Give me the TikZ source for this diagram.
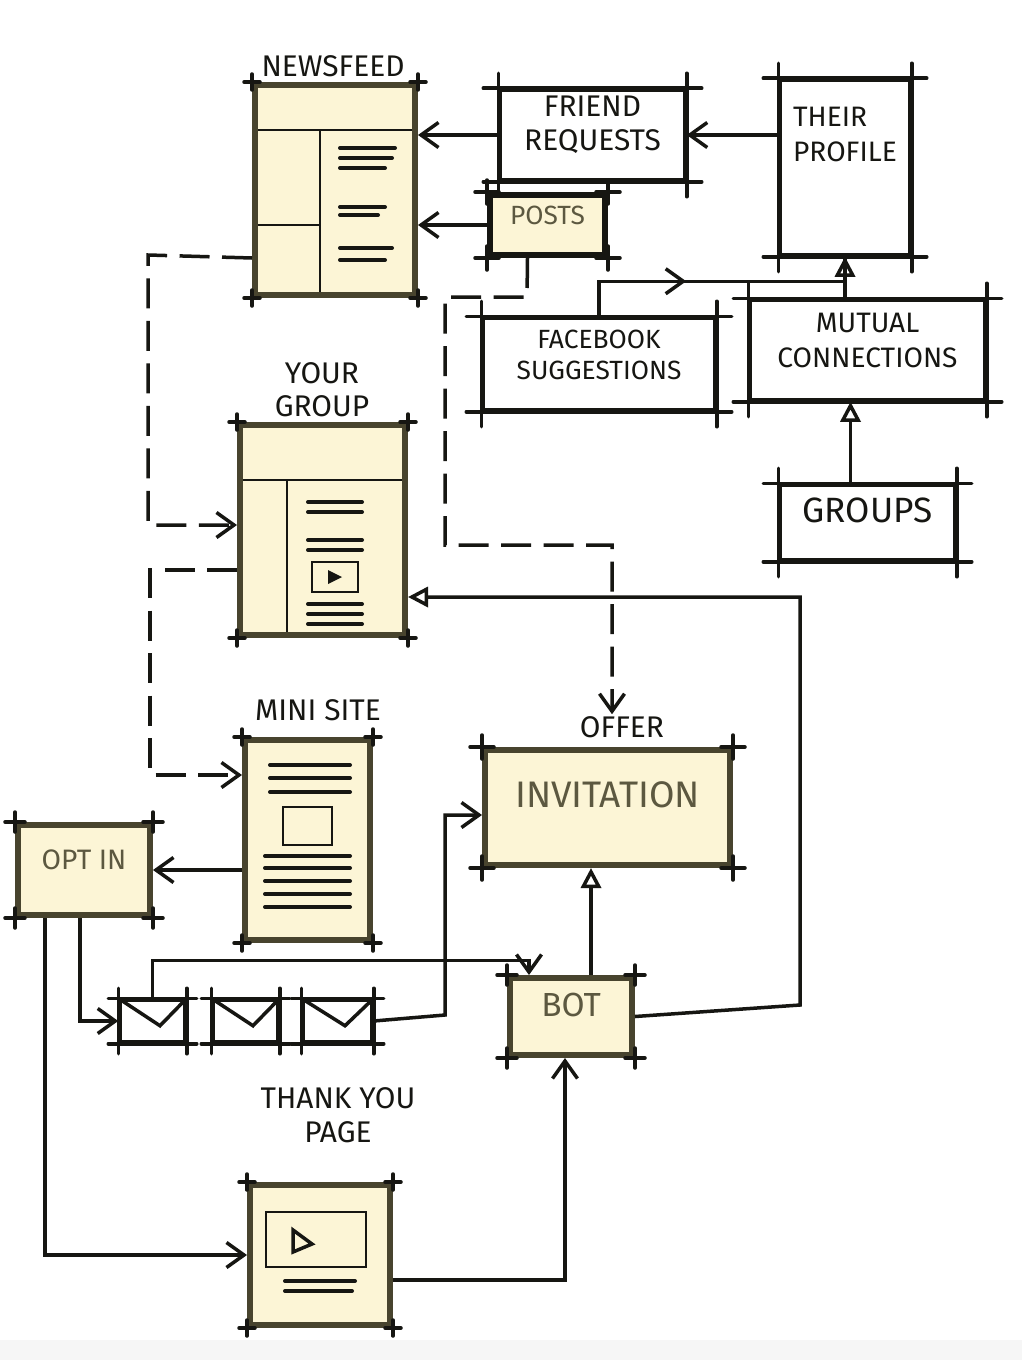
\documentclass[tikz,border=0pt]{standalone}
\usepackage{fontspec}
\setmainfont{Fira Sans}
\usetikzlibrary{fit,arrows.meta,decorations.markings}
\definecolor{inkblack}{RGB}{22,22,18}
\definecolor{olivedark}{RGB}{72,68,46}
\definecolor{olivetext}{RGB}{92,88,64}
\definecolor{paper}{RGB}{252,245,214}

% long crossing lines at the corners of a plain box
\newcommand{\overshoot}[2]{%
  \draw[tick] ([xshift=-#2]#1.north west) -- ([xshift=#2]#1.north east);
  \draw[tick] ([xshift=-#2]#1.south west) -- ([xshift=#2]#1.south east);
  \draw[tick] ([yshift=#2]#1.north west) -- ([yshift=-#2]#1.south west);
  \draw[tick] ([yshift=#2]#1.north east) -- ([yshift=-#2]#1.south east);
}
% short crosses at the corners of a filled box
\newcommand{\cornerticks}[2]{%
  \foreach \c in {north west,north east,south west,south east}{
    \draw[tick] ([xshift=-#2]#1.\c) -- ([xshift=#2]#1.\c);
    \draw[tick] ([yshift=-#2]#1.\c) -- ([yshift=#2]#1.\c);
  }%
}

\begin{document}
\begin{tikzpicture}[x=0.2mm, y=-0.2mm, every node/.style={text=inkblack}]
    \tikzstyle{pagebox}=[draw=olivedark, line width=1.2mm, fill=paper, inner sep=0pt]
    \tikzstyle{whitebox}=[draw=inkblack, line width=0.7mm, fill=white, inner sep=0pt, align=left]
    \tikzstyle{tick}=[draw=inkblack, line width=0.7mm, line cap=round]
    \tikzstyle{inner}=[draw=inkblack, line width=0.5mm]
    \tikzstyle{strokeline}=[draw=inkblack, line width=0.8mm, line cap=round]
    \tikzstyle{lbl}=[font=\fontsize{17}{19}\selectfont, align=center, inner sep=1pt]
    \tikzstyle{flow}=[draw=inkblack, line width=0.7mm, -{Straight Barb[length=3.5mm,width=5mm]}]
    \tikzstyle{triflow}=[draw=inkblack, line width=0.7mm, -{Triangle[open,length=4mm,width=4mm]}]
    \tikzstyle{dashflow}=[flow, dash pattern=on 6mm off 2.5mm]

    \useasboundingbox (0,0) rectangle (1022,1360);
    \fill[white] (0,0) rectangle (1022,1360);
    \fill[gray!7] (0,1340) rectangle (1022,1360);

    % pages
    \node[pagebox, fit={(255,85) (415,295)}] (news) {};
    \node[lbl] (newslbl) at (333,66) {NEWSFEED};
    \draw[inner] (258,130) -- (412,130) (320,130) -- (320,292) (258,225) -- (320,225);
    \foreach \y/\l in {148/395,158/392,168/385,207/385,215/378,248/392,260/385}
      \draw[strokeline] (340,\y) -- (\l,\y);

    \node[pagebox, fit={(240,425) (405,635)}] (yourgroup) {};
    \node[lbl] (yourlbl) at (322,390) {YOUR\\GROUP};
    \draw[inner] (243,480) -- (402,480) (287,480) -- (287,632);
    \foreach \y in {502,512,540,550,604,614,624}
      \draw[strokeline] (308,\y) -- (362,\y);
    \draw[inner] (312,562) rectangle (358,592);
    \fill[inkblack] (328,570) -- (342,577) -- (328,584) -- cycle;

    \node[pagebox, fit={(245,740) (370,940)}] (minisite) {};
    \node[lbl] (minilbl) at (318,710) {MINI SITE};
    \foreach \y in {765,778,792}
      \draw[strokeline] (270,\y) -- (350,\y);
    \draw[inner] (283,807) rectangle (332,845);
    \foreach \y in {856,868,881,894,907}
      \draw[strokeline] (265,\y) -- (350,\y);

    \node[pagebox, fit={(250,1185) (390,1325)}] (thanks) {};
    \node[lbl] (thankslbl) at (338,1115) {THANK YOU\\PAGE};
    \draw[inner] (266,1212) rectangle (366,1267);
    \draw[tick] (293,1230) -- (312,1244) -- (293,1252) -- cycle;
    \draw[strokeline] (285,1281) -- (355,1281) (285,1291) -- (352,1291);

    % plain boxes
    \node[whitebox, fit={(500,90) (685,180)}, font=\fontsize{17}{19}\selectfont] (friend) {FRIEND\\REQUESTS};
    \node[whitebox, fit={(780,80) (910,255)},
      label={[font=\fontsize{16}{20}\selectfont, align=left, anchor=north, yshift=-4.5mm]north:THEIR\\PROFILE}] (profile) {};
    \node[whitebox, fit={(483,318) (715,410)}, font=\fontsize{15}{18}\selectfont] (fbsug) {FACEBOOK\\SUGGESTIONS};
    \node[whitebox, fit={(750,300) (985,400)}, font=\fontsize{16}{20}\selectfont] (mutual) {MUTUAL\\CONNECTIONS};
    \node[whitebox, fit={(780,485) (955,560)}, font=\fontsize{20}{22}\selectfont] (groups) {GROUPS};
    \overshoot{friend}{3mm}
    \overshoot{profile}{3mm}
    \overshoot{fbsug}{3mm}
    \overshoot{mutual}{3mm}
    \overshoot{groups}{3mm}

    % filled boxes
    \node[pagebox, draw=inkblack, fit={(490,195) (605,255)}, font=\fontsize{15}{17}\selectfont, text=olivetext] (posts) {POSTS};
    \node[pagebox, fit={(485,750) (730,865)}, font=\fontsize{21}{24}\selectfont, text=olivetext] (offer) {INVITATION};
    \node[lbl] (offerlbl) at (622,727) {OFFER};
    \node[pagebox, fit={(18,825) (150,915)}, font=\fontsize{16}{18}\selectfont, text=olivetext] (optin) {OPT IN};
    \node[pagebox, fit={(510,978) (632,1055)}, font=\fontsize{19}{21}\selectfont, text=olivetext] (bot) {BOT};
    \cornerticks{posts}{2.4mm}
    \cornerticks{offer}{2.4mm}
    \cornerticks{optin}{2mm}
    \cornerticks{bot}{2mm}
    \cornerticks{news}{1.6mm}
    \cornerticks{yourgroup}{1.6mm}
    \cornerticks{minisite}{1.6mm}
    \cornerticks{thanks}{1.6mm}

    % emails
    \node[whitebox, fit={(120,1000) (185,1042)}] (mail1) {};
    \node[whitebox, fit={(213,1000) (278,1042)}] (mail2) {};
    \node[whitebox, fit={(303,1000) (372,1042)}] (mail3) {};
    \foreach \m in {mail1,mail2,mail3}{
      \draw[tick] (\m.north west) -- ([xshift=1.5mm, yshift=-5.5mm]\m.north) -- (\m.north east);
      \overshoot{\m}{2mm}
    }

    % connectors
    \draw[flow] (friend.west) -- (news.east |- friend.west);
    \draw[flow] (posts.west) -- (news.east |- posts.west);
    \draw[flow] (profile.west |- friend.east) -- (friend.east);
    \draw[draw=inkblack, line width=0.7mm, postaction={decorate},
      decoration={markings, mark=at position 0.4 with {\arrow{Straight Barb[length=3.5mm,width=5mm]}}}]
      (fbsug.north) -- ++(0,-35) -| (profile.south);
    \draw[triflow] (profile.south |- mutual.north) -- (profile.south);
    \draw[triflow] ([xshift=-3.4mm]groups.north) -- ([xshift=-3.4mm]groups.north |- mutual.south);
    \draw[dashflow] ([xshift=-4mm]posts.south) -- (527,297) -- (445,297) -- (445,545) -- (612,545) -- (offerlbl.north -| 612,0);
    \draw[dashflow] ([yshift=8mm]news.south west) -- (148,255) -- (148,525) -- (yourgroup.west |- 148,525);
    \draw[dashflow] (yourgroup.west |- 150,570) -- (150,570) -- (150,775) -- (minisite.west |- 150,775);
    \draw[flow] (minisite.west |- optin.east) -- (optin.east);
    \draw[flow] ([xshift=6mm]optin.south west) |- (thanks.west);
    \draw[flow] ([xshift=13mm]optin.south west) |- (mail1.west);
    \draw[flow] (mail1.north) -- ++(0,-38) -| ([xshift=4.4mm]bot.north west);
    \draw[flow] (mail3.east) -- (445,1015) -- (445,815) -- (offer.west |- 445,815);
    \draw[triflow] ([xshift=4mm]bot.north) -- ([xshift=4mm]bot.north |- offer.south);
    \draw[flow] ([yshift=-5mm]thanks.east) -| ([xshift=-1.2mm]bot.south);
    \draw[triflow] (bot.east) -- (800,1005) -- (800,597) -- (yourgroup.east |- 800,597);
  \end{tikzpicture}
\end{document}
